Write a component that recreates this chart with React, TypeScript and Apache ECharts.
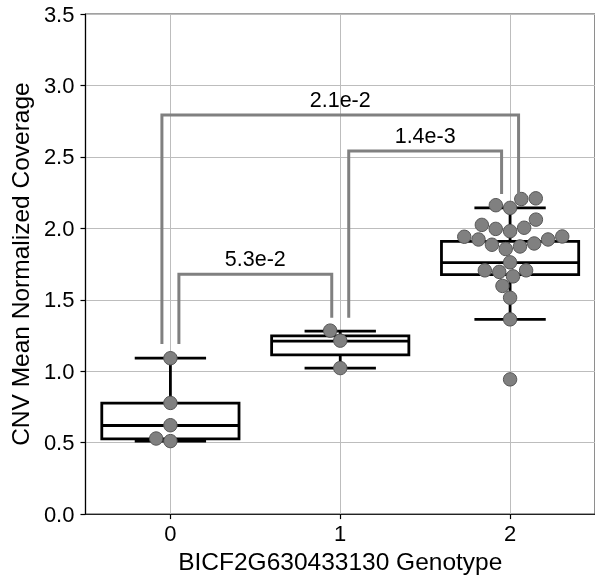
import React, { useEffect, useRef } from "react";
import * as echarts from "echarts";

// ---------- data ----------
const xTickLabels = ["", "0", "", "1", "", "2", ""];
const genotypes = [0, 1, 2];

const genotype0Values = [1.091, 0.778, 0.622, 0.529, 0.511];
const genotype1Values = [1.284, 1.214, 1.022];
const genotype2Values = [
  2.21, 2.205, 2.162, 2.143, 2.061, 2.024, 1.996, 2.004, 1.98, 1.941, 1.943,
  1.922, 1.922, 1.894, 1.873, 1.855, 1.885, 1.762, 1.706, 1.695, 1.706, 1.664,
  1.597, 1.514, 1.363, 0.943,
];

const boxMin = [0.511, 1.022, 1.363];
const boxQ1 = [0.527, 1.114, 1.676];
const boxMedian = [0.62, 1.21, 1.76];
const boxQ3 = [0.776, 1.247, 1.908];
const boxMax = [1.091, 1.281, 2.143];

const bracketFrom = [0, 1, 0];
const bracketTo = [1, 2, 2];
const bracketOuter = [false, false, true];
const bracketHeight = [1.678, 2.542, 2.793];
const bracketLeftBottom = [1.19, 1.375, 1.19];
const bracketRightBottom = [1.375, 2.24, 2.24];
const bracketLabels = ["5.3e-2", "1.4e-3", "2.1e-2"];

// ---------- layout ----------
const GRID_LEFT = 84;
const GRID_TOP = 14;
const GRID_W = 516;
const GRID_H = 502.7;
const X_MIN = -0.5;
const X_MAX = 2.5;
const Y_MAX = 3.5;
const MARKER_R = 7;
const FONT = "Liberation Sans, Arial, Helvetica, sans-serif";

function swarmOffsets(values: number[], r: number, yScale: number, xScale: number): number[] {
  const order = values.map((_, i) => i).sort((a, b) => values[a] - values[b]);
  const placed: { x: number; y: number }[] = [];
  const out = new Array(values.length).fill(0);
  const d2 = 4 * r * r;
  for (const i of order) {
    const y = values[i] * yScale;
    const neighbors: { x: number; y: number }[] = [];
    for (let k = placed.length - 1; k >= 0; k--) {
      if (y - placed[k].y < 2 * r) neighbors.push(placed[k]);
      else break;
    }
    let x = 0;
    if (neighbors.length) {
      const cands = [0];
      let leftFirst = true;
      for (const n of neighbors) {
        const dy = y - n.y;
        const dx = Math.sqrt(Math.max(d2 - dy * dy, 0)) * 1.05;
        if (leftFirst) cands.push(n.x - dx, n.x + dx);
        else cands.push(n.x + dx, n.x - dx);
        leftFirst = !leftFirst;
      }
      const sorted = cands
        .map((c, idx) => ({ c, idx }))
        .sort((a, b) => Math.abs(a.c) - Math.abs(b.c) || a.idx - b.idx);
      for (const s of sorted) {
        if (neighbors.every((n) => (n.x - s.c) ** 2 + (n.y - y) ** 2 >= d2)) {
          x = s.c;
          break;
        }
      }
    }
    placed.push({ x, y });
    out[i] = x / xScale;
  }
  return out;
}

export default function App() {
  const ref = useRef<HTMLDivElement>(null);

  useEffect(() => {
    if (!ref.current) return;
    const chart = echarts.init(ref.current, undefined, { renderer: "svg" });

    const yScale = GRID_H / Y_MAX;
    const xScale = GRID_W / (X_MAX - X_MIN);
    const groups = [genotype0Values, genotype1Values, genotype2Values];
    const points: number[][] = [];
    groups.forEach((vals, g) => {
      const offs = swarmOffsets(vals, MARKER_R, yScale, xScale);
      vals.forEach((v, i) => points.push([genotypes[g] + offs[i], v]));
    });

    const boxData = genotypes.map((g, i) => [g, boxMin[i], boxQ1[i], boxMedian[i], boxQ3[i], boxMax[i]]);
    const bracketData = bracketFrom.map((f, i) => [f, bracketTo[i], bracketOuter[i] ? 1 : 0, bracketHeight[i], bracketLeftBottom[i], bracketRightBottom[i]]);

    const showTick = (_: number, v: string) => v !== "";

    chart.setOption({
      animation: false,
      grid: {
        left: GRID_LEFT,
        top: GRID_TOP,
        width: GRID_W,
        height: GRID_H,
        show: true,
        borderColor: "#444",
        borderWidth: 1.2,
        backgroundColor: "transparent",
      },
      xAxis: [
        {
          type: "category",
          data: xTickLabels,
          boundaryGap: false,
          position: "bottom",
          axisLine: { show: true, onZero: false, lineStyle: { color: "#222", width: 1.2 } },
          axisTick: { show: true, length: 5, interval: showTick, lineStyle: { color: "#000", width: 1.2 } },
          axisLabel: { interval: showTick, fontSize: 22, color: "#000", margin: 8, fontFamily: FONT },
          splitLine: { show: true, interval: showTick, lineStyle: { color: "#bdbdbd", width: 1 } },
          name: "BICF2G630433130 Genotype",
          nameLocation: "middle",
          nameGap: 30,
          nameTextStyle: { fontSize: 24.5, color: "#000", fontFamily: FONT },
        },
        { type: "value", min: X_MIN, max: X_MAX, show: false },
      ],
      yAxis: {
        type: "value",
        min: 0,
        max: Y_MAX,
        interval: 0.5,
        axisLine: { show: true, onZero: false, lineStyle: { color: "#000", width: 1.2 } },
        axisTick: { show: true, length: 5, lineStyle: { color: "#000", width: 1.2 } },
        axisLabel: { fontSize: 22, color: "#000", margin: 11, fontFamily: FONT, formatter: (v: number) => v.toFixed(1) },
        splitLine: { show: true, lineStyle: { color: "#bdbdbd", width: 1 } },
        name: "CNV Mean Normalized Coverage",
        nameLocation: "middle",
        nameGap: 47,
        nameTextStyle: { fontSize: 24.5, color: "#000", fontFamily: FONT },
      },
      series: [
        {
          type: "custom",
          xAxisIndex: 1,
          z: 2,
          data: boxData,
          renderItem: (_p: any, api: any) => {
            const x = api.value(0);
            const mn = api.value(1), q1 = api.value(2), md = api.value(3), q3 = api.value(4), mx = api.value(5);
            const hb = 0.404, hc = 0.21;
            const c = (a: number, b: number) => api.coord([a, b]);
            const st = { stroke: "#000", lineWidth: 2.8, fill: "none" };
            const tl = c(x - hb, q3), br = c(x + hb, q1);
            const line = (a: number[], b: number[]) => ({ type: "line", shape: { x1: a[0], y1: a[1], x2: b[0], y2: b[1] }, style: st });
            return {
              type: "group",
              children: [
                line(c(x, mn), c(x, q1)),
                line(c(x, q3), c(x, mx)),
                line(c(x - hc, mn), c(x + hc, mn)),
                line(c(x - hc, mx), c(x + hc, mx)),
                { type: "rect", shape: { x: tl[0], y: tl[1], width: br[0] - tl[0], height: br[1] - tl[1] }, style: { fill: "#fff", stroke: "#000", lineWidth: 2.8 } },
                line(c(x - hb, md), c(x + hb, md)),
              ],
            };
          },
        },
        {
          type: "scatter",
          xAxisIndex: 1,
          z: 3,
          data: points,
          symbol: "circle",
          symbolSize: 13.4,
          itemStyle: { color: "#808080", borderColor: "#555", borderWidth: 1, opacity: 1 },
        },
        {
          type: "custom",
          xAxisIndex: 1,
          z: 4,
          data: bracketData,
          renderItem: (p: any, api: any) => {
            const f = api.value(0), t = api.value(1), outer = api.value(2);
            const h = api.value(3), lb = api.value(4), rb = api.value(5);
            const inset = 0.05;
            const x1 = outer ? f - inset : f + inset;
            const x2 = outer ? t + inset : t - inset;
            const pts = [api.coord([x1, lb]), api.coord([x1, h]), api.coord([x2, h]), api.coord([x2, rb])];
            const mid = api.coord([(x1 + x2) / 2, h]);
            return {
              type: "group",
              children: [
                { type: "polyline", shape: { points: pts }, style: { stroke: "#808080", lineWidth: 3, fill: "none" } },
                {
                  type: "text",
                  x: mid[0],
                  y: mid[1] - 4,
                  style: { text: bracketLabels[p.dataIndex], fontSize: 21.5, fontFamily: FONT, fill: "#000", align: "center", verticalAlign: "bottom" },
                },
              ],
            };
          },
        },
      ],
    });

    return () => chart.dispose();
  }, []);

  return <div ref={ref} style={{ position: "fixed", left: 0, top: 0, width: 595, height: 579 }} />;
}
